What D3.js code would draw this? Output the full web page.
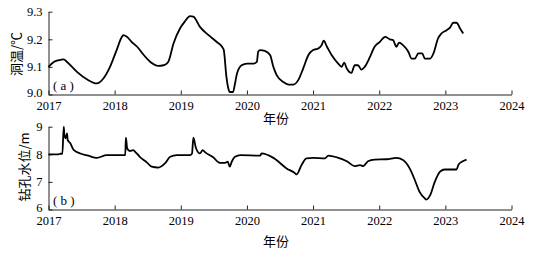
<!DOCTYPE html>
<html>
<head>
<meta charset="utf-8">
<script src="https://cdn.jsdelivr.net/npm/d3@7"></script>
<style>
  body { margin: 0; background: #fff; }
  text { font-family: "Liberation Serif", "Times New Roman", serif; }
  .cjk { font-family: "Noto Sans CJK SC", sans-serif; }
</style>
</head>
<body>
<div id="chart"></div>
<script>
// Decimal years on the x axis
const yearTicks = [2017, 2018, 2019, 2020, 2021, 2022, 2023, 2024];

// (a) cave temperature
const tempYears = [2017.0, 2017.08, 2017.15, 2017.23, 2017.28, 2017.43, 2017.58, 2017.73, 2017.83, 2017.93,
  2018.03, 2018.11, 2018.13, 2018.18, 2018.26, 2018.34, 2018.44, 2018.54, 2018.66, 2018.74, 2018.81, 2018.89, 2018.99,
  2019.06, 2019.14, 2019.19, 2019.29, 2019.42, 2019.54, 2019.64, 2019.65, 2019.69, 2019.72, 2019.74, 2019.79, 2019.82, 2019.85, 2019.92,
  2020.0, 2020.1, 2020.15, 2020.17, 2020.2, 2020.27, 2020.35, 2020.4, 2020.45, 2020.55, 2020.63, 2020.7, 2020.78, 2020.85, 2020.93,
  2021.0, 2021.08, 2021.13, 2021.16, 2021.21, 2021.28, 2021.38, 2021.43, 2021.47, 2021.51, 2021.58, 2021.63, 2021.68, 2021.73, 2021.78, 2021.86, 2021.93,
  2022.01, 2022.09, 2022.16, 2022.21, 2022.26, 2022.3, 2022.36, 2022.44, 2022.49, 2022.54, 2022.59, 2022.65, 2022.69, 2022.77, 2022.82, 2022.89, 2022.94,
  2023.02, 2023.07, 2023.12, 2023.17, 2023.22, 2023.27];
const tempValues = [9.100, 9.118, 9.124, 9.127, 9.118, 9.082, 9.055, 9.040, 9.058, 9.100,
  9.161, 9.209, 9.215, 9.210, 9.190, 9.173, 9.143, 9.118, 9.104, 9.106, 9.118, 9.185, 9.240,
  9.264, 9.284, 9.282, 9.245, 9.215, 9.191, 9.167, 9.161, 9.064, 9.021, 9.009, 9.009, 9.040, 9.076, 9.106,
  9.112, 9.112, 9.118, 9.155, 9.161, 9.158, 9.143, 9.100, 9.070, 9.045, 9.036, 9.036, 9.054, 9.094, 9.143,
  9.161, 9.167, 9.179, 9.195, 9.173, 9.143, 9.112, 9.100, 9.115, 9.094, 9.078, 9.106, 9.106, 9.090, 9.100, 9.136, 9.173,
  9.191, 9.209, 9.200, 9.197, 9.173, 9.188, 9.179, 9.155, 9.130, 9.130, 9.149, 9.149, 9.130, 9.130, 9.149, 9.203, 9.221,
  9.233, 9.242, 9.260, 9.260, 9.240, 9.221];
const tempTicks = [9.0, 9.1, 9.2, 9.3];

// (b) borehole water level
const levelYears = [2017.0, 2017.15, 2017.18, 2017.21, 2017.23, 2017.24, 2017.26, 2017.28, 2017.29, 2017.33, 2017.38, 2017.48, 2017.6, 2017.73, 2017.88,
  2018.03, 2018.16, 2018.17, 2018.19, 2018.23, 2018.28, 2018.31, 2018.38, 2018.49, 2018.56, 2018.66, 2018.76, 2018.84, 2018.94,
  2019.14, 2019.17, 2019.19, 2019.23, 2019.29, 2019.33, 2019.37, 2019.49, 2019.59, 2019.67, 2019.71, 2019.74, 2019.77, 2019.82, 2019.9,
  2020.2, 2020.22, 2020.4, 2020.6, 2020.73, 2020.75, 2020.83, 2020.9,
  2021.0, 2021.18, 2021.23, 2021.36, 2021.51, 2021.63, 2021.71, 2021.76, 2021.83, 2021.93,
  2022.11, 2022.26, 2022.36, 2022.46, 2022.54, 2022.61, 2022.69, 2022.71, 2022.77, 2022.84, 2022.92, 2022.99,
  2023.17, 2023.2, 2023.25, 2023.32];
const levelValues = [8.0, 8.0, 8.02, 8.02, 9.0, 8.7, 8.58, 8.76, 8.52, 8.4, 8.16, 8.03, 7.95, 7.87, 7.97,
  7.97, 7.97, 8.6, 8.21, 8.12, 8.15, 8.09, 7.91, 7.7, 7.55, 7.52, 7.67, 7.91, 7.97,
  7.97, 8.03, 8.6, 8.22, 8.03, 8.15, 8.07, 7.89, 7.69, 7.69, 7.73, 7.55, 7.73, 7.91, 7.97,
  7.95, 8.03, 7.87, 7.49, 7.31, 7.27, 7.63, 7.85,
  7.87, 7.85, 7.95, 7.89, 7.75, 7.57, 7.61, 7.57, 7.75, 7.81,
  7.82, 7.87, 7.79, 7.49, 7.06, 6.64, 6.4, 6.36, 6.52, 7.0, 7.37, 7.45,
  7.45, 7.63, 7.73, 7.81];
const levelTicks = [6, 7, 8, 9];

const W = 542, H = 254;
const svg = d3.select('#chart').append('svg')
  .attr('width', W)
  .attr('height', H);

const x = d3.scaleLinear().domain([2017, 2024]).range([48.5, 511.5]);

function panel(opts) {
  const y = d3.scaleLinear().domain(opts.domain).range([opts.bottom, opts.top]);
  const g = svg.append('g');

  // x axis, ticks pointing inward
  g.append('g')
    .attr('transform', `translate(0,${opts.bottom})`)
    .call(d3.axisBottom(x).tickValues(yearTicks).tickFormat(d3.format('d'))
      .tickSizeInner(-4).tickSizeOuter(0).tickPadding(7))
    .call(a => a.selectAll('text').attr('font-size', 12.5).attr('fill', '#000')
      .attr('font-family', '"Liberation Serif", serif'))
    .call(a => a.selectAll('line,path').attr('stroke', '#222'));

  // y axis
  g.append('g')
    .attr('transform', `translate(${x(2017)},0)`)
    .call(d3.axisLeft(y).tickValues(opts.ticks).tickFormat(opts.fmt)
      .tickSizeInner(-4).tickSizeOuter(0).tickPadding(6))
    .call(a => a.selectAll('text').attr('font-size', 12.5).attr('fill', '#000')
      .attr('font-family', '"Liberation Serif", serif'))
    .call(a => a.selectAll('text').filter(d => d === opts.domain[0]).attr('dy', '0.15em'))
    .call(a => a.selectAll('line,path').attr('stroke', '#222'));

  const line = d3.line()
    .x((d, i) => x(opts.xs[i]))
    .y(d => y(d))
    .curve(d3.curveMonotoneX);

  g.append('path')
    .datum(opts.ys)
    .attr('fill', 'none')
    .attr('stroke', '#000')
    .attr('stroke-width', 1.8)
    .attr('stroke-linejoin', 'round')
    .attr('d', line);

  // panel tag
  g.append('text')
    .attr('x', 53)
    .attr('y', opts.bottom - 5)
    .attr('font-size', 13)
    .attr('xml:space', 'preserve')
    .text(opts.tag);

  // y title
  g.append('text')
    .attr('class', 'cjk')
    .attr('transform', `translate(${opts.titleX},${opts.titleY}) rotate(-90)`)
    .attr('text-anchor', 'middle')
    .attr('font-size', 13)
    .attr('fill', '#000')
    .text(opts.title);

  // x title
  g.append('text')
    .attr('class', 'cjk')
    .attr('x', 276)
    .attr('y', opts.bottom + opts.xTitleDy)
    .attr('text-anchor', 'middle')
    .attr('font-size', 13)
    .text('年份');
}

panel({
  domain: [9.0, 9.3], top: 11.7, bottom: 94.5, ticks: tempTicks, fmt: d3.format('.1f'),
  xs: tempYears, ys: tempValues, tag: '( a )', title: '洞温/℃', titleX: 21, titleY: 54,
  xTitleDy: 28
});

panel({
  domain: [6, 9], top: 126.7, bottom: 209.5, ticks: levelTicks, fmt: d3.format('d'),
  xs: levelYears, ys: levelValues, tag: '( b )', title: '钻孔水位/m', titleX: 29, titleY: 167,
  xTitleDy: 36
});
</script>
</body>
</html>
